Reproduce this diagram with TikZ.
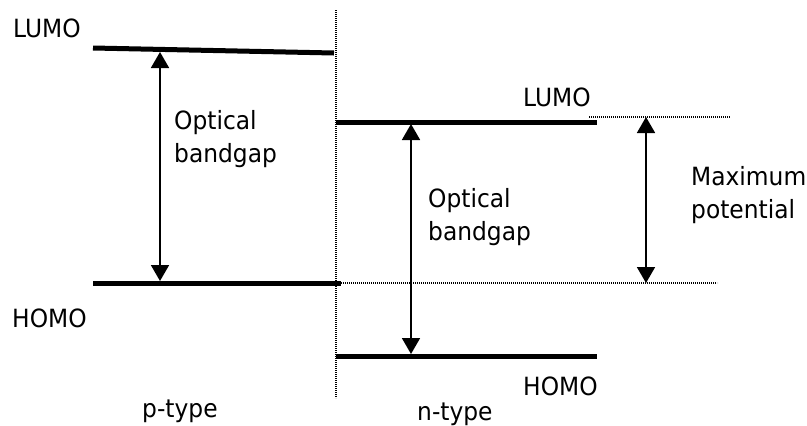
\documentclass[tikz,border=0pt]{standalone}
\usepackage{fontspec}
\setmainfont{DejaVu Sans}[FakeStretch=0.93]
\usetikzlibrary{arrows.meta}
\tikzset{
  level/.style={line width=5bp},
  gaparrow/.style={line width=1.8bp, {Triangle[width=18bp,length=16bp]}-{Triangle[width=18bp,length=16bp]}},
  guide/.style={line width=1.2bp, dash pattern=on 1bp off 1bp},
  lbl/.style={inner sep=0pt, font=\fontsize{25.2}{33}\selectfont, align=left}
}

\begin{document}
\begin{tikzpicture}[x=1bp,y=-1bp]
  \useasboundingbox (0,0) rectangle (807,425);
  % Divider
  \coordinate (divtop) at (336,10);
  \coordinate (divbot) at (336,398);
  \draw[guide] (divtop) -- (divbot);
  % p-type levels
  \coordinate (pLumoA) at (93,48);
  \coordinate (pLumoB) at (334,53);
  \coordinate (pHomoA) at (93,283);
  \coordinate (pHomoB) at (341,283);
  \draw[level] (pLumoA) -- (pLumoB);
  \draw[level] (pHomoA) -- (pHomoB);
  % n-type levels
  \coordinate (nLumoA) at (336,122);
  \coordinate (nLumoB) at (597,122);
  \coordinate (nHomoA) at (336,356);
  \coordinate (nHomoB) at (597,356);
  \draw[level] (nLumoA) -- (nLumoB);
  \draw[level] (nHomoA) -- (nHomoB);
  % Guide lines
  \coordinate (gTopA) at (589,117);
  \coordinate (gTopB) at (730,117);
  \coordinate (gBotB) at (717,283);
  \draw[guide] (gTopA) -- (gTopB);
  \draw[guide] (pHomoB) -- (gBotB);
  % Arrows
  \coordinate (pGapTop) at (160,52);
  \coordinate (pGapBot) at (160,281);
  \draw[gaparrow] (pGapTop) -- (pGapBot);
  \coordinate (nGapTop) at (411,124);
  \coordinate (nGapBot) at (411,354);
  \draw[gaparrow] (nGapTop) -- (nGapBot);
  \coordinate (vTop) at (646,117);
  \coordinate (vBot) at (646,283);
  \draw[gaparrow] (vTop) -- (vBot);
  % Labels
  \node[lbl, anchor=base west] (pLumo) at (13,37) {LUMO};
  \node[lbl, anchor=base west] (pHomo) at (12,327) {HOMO};
  \node[lbl, anchor=base west] (nLumo) at (523,106) {LUMO};
  \node[lbl, anchor=base west] (nHomo) at (523,395) {HOMO};
  \node[lbl, anchor=north west] (pGap) at (174,110) {Optical\\bandgap};
  \node[lbl, anchor=north west] (nGap) at (428,188) {Optical\\bandgap};
  \node[lbl, anchor=north west] (vMax) at (691,166) {Maximum\\potential};
  \node[lbl, anchor=base west] (pType) at (142,417) {p-type};
  \node[lbl, anchor=base west] (nType) at (417,420) {n-type};
\end{tikzpicture}
\end{document}
